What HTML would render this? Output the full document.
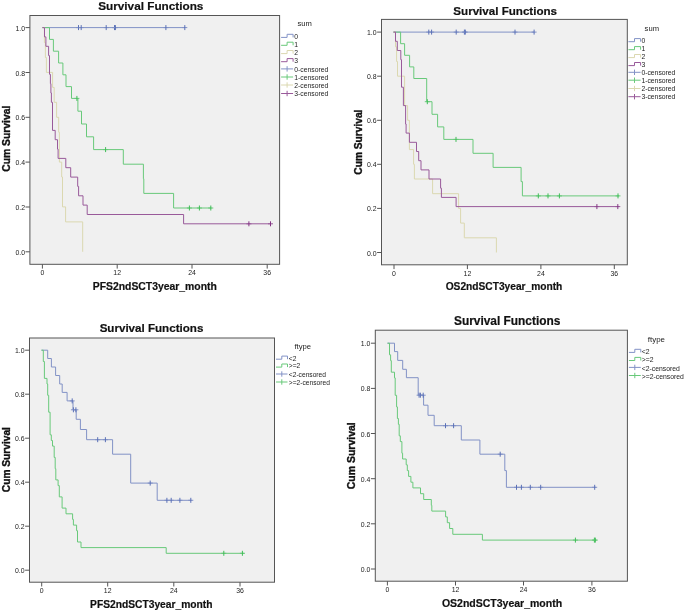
<!DOCTYPE html>
<html><head><meta charset="utf-8"><title>Survival Functions</title>
<style>
html,body{margin:0;padding:0;background:#ffffff;}
body{width:685px;height:612px;overflow:hidden;font-family:"Liberation Sans",sans-serif;}
svg{display:block;}

</style></head>
<body>
<svg width="685" height="612" viewBox="0 0 685 612">
<rect x="0" y="0" width="685" height="612" fill="#ffffff"/>
<rect x="29.9" y="15.5" width="249.7" height="248.8" fill="#f0f0f0" stroke="#555555" stroke-width="1"/>
<path d="M25.5,27.6 H29.9" stroke="#555555" stroke-width="1"/>
<path d="M25.5,72.5 H29.9" stroke="#555555" stroke-width="1"/>
<path d="M25.5,117.3 H29.9" stroke="#555555" stroke-width="1"/>
<path d="M25.5,162.1 H29.9" stroke="#555555" stroke-width="1"/>
<path d="M25.5,207.0 H29.9" stroke="#555555" stroke-width="1"/>
<path d="M25.5,251.8 H29.9" stroke="#555555" stroke-width="1"/>
<path d="M42.4,264.3 V268.6" stroke="#555555" stroke-width="1"/>
<path d="M117.2,264.3 V268.6" stroke="#555555" stroke-width="1"/>
<path d="M192.0,264.3 V268.6" stroke="#555555" stroke-width="1"/>
<path d="M267.2,264.3 V268.6" stroke="#555555" stroke-width="1"/>
<path d="M42.4,27.6 H184.8" stroke="#8292c6" stroke-width="1.0" fill="none" stroke-linejoin="miter"/>
<path d="M76.0,27.6 H81.0" stroke="#8292c6" stroke-width="1.0" fill="none"/><path d="M78.5,25.1 V30.1" stroke="#5a70b7" stroke-width="1.0" fill="none"/><path d="M78.7,27.6 H83.7" stroke="#8292c6" stroke-width="1.0" fill="none"/><path d="M81.2,25.1 V30.1" stroke="#5a70b7" stroke-width="1.0" fill="none"/><path d="M103.7,27.6 H108.7" stroke="#8292c6" stroke-width="1.0" fill="none"/><path d="M106.2,25.1 V30.1" stroke="#5a70b7" stroke-width="1.0" fill="none"/><path d="M112.0,27.6 H117.0" stroke="#8292c6" stroke-width="1.0" fill="none"/><path d="M114.5,25.1 V30.1" stroke="#5a70b7" stroke-width="1.0" fill="none"/><path d="M112.9,27.6 H117.9" stroke="#8292c6" stroke-width="1.0" fill="none"/><path d="M115.4,25.1 V30.1" stroke="#5a70b7" stroke-width="1.0" fill="none"/><path d="M163.4,27.6 H168.4" stroke="#8292c6" stroke-width="1.0" fill="none"/><path d="M165.9,25.1 V30.1" stroke="#5a70b7" stroke-width="1.0" fill="none"/><path d="M182.3,27.6 H187.3" stroke="#8292c6" stroke-width="1.0" fill="none"/><path d="M184.8,25.1 V30.1" stroke="#5a70b7" stroke-width="1.0" fill="none"/>
<path d="M42.4,27.6 H49.5 V39.4 H53.4 V51.2 H58.6 V63.0 H62.9 V74.8 H66.0 V86.6 H71.5 V98.4 H77.9 V111.2 H81.5 V124.0 H86.5 V136.8 H93.6 V149.6 H123.3 V164.2 H143.4 V178.8 H143.8 V193.4 H173.6 V208.0 H211.4" stroke="#68c97a" stroke-width="1.0" fill="none" stroke-linejoin="miter"/>
<path d="M74.4,98.4 H79.4" stroke="#68c97a" stroke-width="1.0" fill="none"/><path d="M76.9,95.9 V100.9" stroke="#3fbd57" stroke-width="1.0" fill="none"/><path d="M103.1,149.6 H108.1" stroke="#68c97a" stroke-width="1.0" fill="none"/><path d="M105.6,147.1 V152.1" stroke="#3fbd57" stroke-width="1.0" fill="none"/><path d="M186.9,208.0 H191.9" stroke="#68c97a" stroke-width="1.0" fill="none"/><path d="M189.4,205.5 V210.5" stroke="#3fbd57" stroke-width="1.0" fill="none"/><path d="M196.9,208.0 H201.9" stroke="#68c97a" stroke-width="1.0" fill="none"/><path d="M199.4,205.5 V210.5" stroke="#3fbd57" stroke-width="1.0" fill="none"/><path d="M208.3,208.0 H213.3" stroke="#68c97a" stroke-width="1.0" fill="none"/><path d="M210.8,205.5 V210.5" stroke="#3fbd57" stroke-width="1.0" fill="none"/>
<path d="M42.4,27.6 H44.4 V42.5 H45.4 V57.5 H46.4 V72.4 H52.6 V87.4 H54.2 V102.3 H56.6 V117.3 H58.7 V132.2 H59.4 V162.1 H61.7 V177.0 H62.5 V206.9 H65.6 V221.9 H82.7 V251.8" stroke="#dbd8b0" stroke-width="1.0" fill="none" stroke-linejoin="miter"/>

<path d="M42.4,27.6 H44.5 V36.9 H45.9 V46.3 H48.6 V55.6 H49.5 V74.3 H50.4 V83.7 H50.9 V93.0 H51.4 V102.3 H52.5 V130.4 H55.2 V139.7 H57.5 V149.1 H58.1 V158.4 H65.8 V167.7 H70.7 V177.1 H77.7 V186.4 H78.6 V195.8 H83.0 V205.1 H87.2 V214.5 H183.6 V223.8 H271.1" stroke="#995a9a" stroke-width="1.0" fill="none" stroke-linejoin="miter"/>
<path d="M246.4,223.8 H251.4" stroke="#995a9a" stroke-width="1.0" fill="none"/><path d="M248.9,221.3 V226.3" stroke="#843584" stroke-width="1.0" fill="none"/><path d="M268.0,223.8 H273.0" stroke="#995a9a" stroke-width="1.0" fill="none"/><path d="M270.5,221.3 V226.3" stroke="#843584" stroke-width="1.0" fill="none"/>
<path d="M281.1,37.4 H287.1 V34.3 H293.1 V37.4" stroke="#8292c6" stroke-width="1.0" fill="none"/>
<path d="M281.1,45.3 H287.1 V42.2 H293.1 V45.3" stroke="#68c97a" stroke-width="1.0" fill="none"/>
<path d="M281.1,53.6 H287.1 V50.5 H293.1 V53.6" stroke="#dbd8b0" stroke-width="1.0" fill="none"/>
<path d="M281.1,61.7 H287.1 V58.6 H293.1 V61.7" stroke="#995a9a" stroke-width="1.0" fill="none"/>
<path d="M281.1,68.9 H293.1 M287.1,66.2 V71.6" stroke="#8292c6" stroke-width="1.0" fill="none"/>
<path d="M281.1,77.0 H293.1 M287.1,74.3 V79.7" stroke="#68c97a" stroke-width="1.0" fill="none"/>
<path d="M281.1,85.0 H293.1 M287.1,82.3 V87.7" stroke="#dbd8b0" stroke-width="1.0" fill="none"/>
<path d="M281.1,93.5 H293.1 M287.1,90.8 V96.2" stroke="#995a9a" stroke-width="1.0" fill="none"/>
<rect x="381.5" y="19.4" width="245.8" height="245.4" fill="#f0f0f0" stroke="#555555" stroke-width="1"/>
<path d="M377.1,32.1 H381.5" stroke="#555555" stroke-width="1"/>
<path d="M377.1,76.2 H381.5" stroke="#555555" stroke-width="1"/>
<path d="M377.1,120.3 H381.5" stroke="#555555" stroke-width="1"/>
<path d="M377.1,164.3 H381.5" stroke="#555555" stroke-width="1"/>
<path d="M377.1,208.4 H381.5" stroke="#555555" stroke-width="1"/>
<path d="M377.1,252.5 H381.5" stroke="#555555" stroke-width="1"/>
<path d="M394.0,264.8 V269.1" stroke="#555555" stroke-width="1"/>
<path d="M467.4,264.8 V269.1" stroke="#555555" stroke-width="1"/>
<path d="M540.9,264.8 V269.1" stroke="#555555" stroke-width="1"/>
<path d="M614.3,264.8 V269.1" stroke="#555555" stroke-width="1"/>
<path d="M393.5,32.1 H534.1" stroke="#8292c6" stroke-width="1.0" fill="none" stroke-linejoin="miter"/>
<path d="M426.3,32.1 H431.3" stroke="#8292c6" stroke-width="1.0" fill="none"/><path d="M428.8,29.6 V34.6" stroke="#5a70b7" stroke-width="1.0" fill="none"/><path d="M429.1,32.1 H434.1" stroke="#8292c6" stroke-width="1.0" fill="none"/><path d="M431.6,29.6 V34.6" stroke="#5a70b7" stroke-width="1.0" fill="none"/><path d="M453.7,32.1 H458.7" stroke="#8292c6" stroke-width="1.0" fill="none"/><path d="M456.2,29.6 V34.6" stroke="#5a70b7" stroke-width="1.0" fill="none"/><path d="M461.9,32.1 H466.9" stroke="#8292c6" stroke-width="1.0" fill="none"/><path d="M464.4,29.6 V34.6" stroke="#5a70b7" stroke-width="1.0" fill="none"/><path d="M462.8,32.1 H467.8" stroke="#8292c6" stroke-width="1.0" fill="none"/><path d="M465.3,29.6 V34.6" stroke="#5a70b7" stroke-width="1.0" fill="none"/><path d="M512.5,32.1 H517.5" stroke="#8292c6" stroke-width="1.0" fill="none"/><path d="M515.0,29.6 V34.6" stroke="#5a70b7" stroke-width="1.0" fill="none"/><path d="M531.6,32.1 H536.6" stroke="#8292c6" stroke-width="1.0" fill="none"/><path d="M534.1,29.6 V34.6" stroke="#5a70b7" stroke-width="1.0" fill="none"/>
<path d="M393.5,32.1 H400.6 V43.7 H404.6 V55.3 H409.6 V66.9 H413.8 V78.5 H426.7 V101.7 H432.0 V114.3 H437.6 V126.9 H443.8 V139.4 H473.0 V153.3 H493.1 V167.4 H521.1 V181.6 H522.4 V195.9 H619.1" stroke="#68c97a" stroke-width="1.0" fill="none" stroke-linejoin="miter"/>
<path d="M424.8,101.7 H429.8" stroke="#68c97a" stroke-width="1.0" fill="none"/><path d="M427.3,99.2 V104.2" stroke="#3fbd57" stroke-width="1.0" fill="none"/><path d="M453.5,139.4 H458.5" stroke="#68c97a" stroke-width="1.0" fill="none"/><path d="M456.0,136.9 V141.9" stroke="#3fbd57" stroke-width="1.0" fill="none"/><path d="M535.8,195.9 H540.8" stroke="#68c97a" stroke-width="1.0" fill="none"/><path d="M538.3,193.4 V198.4" stroke="#3fbd57" stroke-width="1.0" fill="none"/><path d="M545.5,195.9 H550.5" stroke="#68c97a" stroke-width="1.0" fill="none"/><path d="M548.0,193.4 V198.4" stroke="#3fbd57" stroke-width="1.0" fill="none"/><path d="M556.9,195.9 H561.9" stroke="#68c97a" stroke-width="1.0" fill="none"/><path d="M559.4,193.4 V198.4" stroke="#3fbd57" stroke-width="1.0" fill="none"/><path d="M615.5,195.9 H620.5" stroke="#68c97a" stroke-width="1.0" fill="none"/><path d="M618.0,193.4 V198.4" stroke="#3fbd57" stroke-width="1.0" fill="none"/>
<path d="M393.5,32.1 H395.5 V46.8 H396.6 V61.5 H397.5 V76.2 H404.6 V105.6 H407.6 V120.3 H409.4 V149.6 H413.6 V164.3 H414.4 V179.0 H432.6 V193.7 H458.6 V208.4 H460.6 V223.1 H464.3 V237.8 H496.4 V252.5" stroke="#dbd8b0" stroke-width="1.0" fill="none" stroke-linejoin="miter"/>

<path d="M393.5,32.1 H395.5 V41.3 H397.3 V50.5 H400.8 V59.7 H401.5 V87.2 H403.4 V105.6 H405.6 V124.0 H406.1 V133.1 H409.4 V142.3 H416.5 V151.5 H418.7 V160.7 H421.0 V169.9 H429.0 V179.0 H440.6 V188.2 H441.4 V197.4 H456.1 V206.6 H619.1" stroke="#995a9a" stroke-width="1.0" fill="none" stroke-linejoin="miter"/>
<path d="M594.4,206.6 H599.4" stroke="#995a9a" stroke-width="1.0" fill="none"/><path d="M596.9,204.1 V209.1" stroke="#843584" stroke-width="1.0" fill="none"/><path d="M615.3,206.6 H620.3" stroke="#995a9a" stroke-width="1.0" fill="none"/><path d="M617.8,204.1 V209.1" stroke="#843584" stroke-width="1.0" fill="none"/>
<path d="M628.4,41.7 H634.5 V38.6 H640.6 V41.7" stroke="#8292c6" stroke-width="1.0" fill="none"/>
<path d="M628.4,49.7 H634.5 V46.6 H640.6 V49.7" stroke="#68c97a" stroke-width="1.0" fill="none"/>
<path d="M628.4,57.6 H634.5 V54.5 H640.6 V57.6" stroke="#dbd8b0" stroke-width="1.0" fill="none"/>
<path d="M628.4,65.6 H634.5 V62.5 H640.6 V65.6" stroke="#995a9a" stroke-width="1.0" fill="none"/>
<path d="M628.4,72.3 H640.6 M634.5,69.6 V75.0" stroke="#8292c6" stroke-width="1.0" fill="none"/>
<path d="M628.4,80.2 H640.6 M634.5,77.5 V82.9" stroke="#68c97a" stroke-width="1.0" fill="none"/>
<path d="M628.4,88.5 H640.6 M634.5,85.8 V91.2" stroke="#dbd8b0" stroke-width="1.0" fill="none"/>
<path d="M628.4,96.7 H640.6 M634.5,94.0 V99.4" stroke="#995a9a" stroke-width="1.0" fill="none"/>
<rect x="29.5" y="338.0" width="245.0" height="244.2" fill="#f0f0f0" stroke="#555555" stroke-width="1"/>
<path d="M25.1,350.2 H29.5" stroke="#555555" stroke-width="1"/>
<path d="M25.1,394.2 H29.5" stroke="#555555" stroke-width="1"/>
<path d="M25.1,438.2 H29.5" stroke="#555555" stroke-width="1"/>
<path d="M25.1,482.2 H29.5" stroke="#555555" stroke-width="1"/>
<path d="M25.1,526.2 H29.5" stroke="#555555" stroke-width="1"/>
<path d="M25.1,570.2 H29.5" stroke="#555555" stroke-width="1"/>
<path d="M41.7,582.2 V586.5" stroke="#555555" stroke-width="1"/>
<path d="M107.7,582.2 V586.5" stroke="#555555" stroke-width="1"/>
<path d="M173.8,582.2 V586.5" stroke="#555555" stroke-width="1"/>
<path d="M240.0,582.2 V586.5" stroke="#555555" stroke-width="1"/>
<path d="M41.5,350.2 H47.7 V358.5 H51.4 V367.0 H55.6 V375.5 H59.7 V384.0 H62.2 V392.4 H67.1 V400.9 H73.0 V409.8 H76.2 V419.3 H80.4 V429.5 H86.6 V439.7 H112.6 V454.2 H130.7 V483.1 H157.2 V500.3 H191.6" stroke="#8292c6" stroke-width="1.0" fill="none" stroke-linejoin="miter"/>
<path d="M69.7,400.9 H74.7" stroke="#8292c6" stroke-width="1.0" fill="none"/><path d="M72.2,398.4 V403.4" stroke="#5a70b7" stroke-width="1.0" fill="none"/><path d="M70.9,409.8 H75.9" stroke="#8292c6" stroke-width="1.0" fill="none"/><path d="M73.4,407.3 V412.3" stroke="#5a70b7" stroke-width="1.0" fill="none"/><path d="M73.4,409.8 H78.4" stroke="#8292c6" stroke-width="1.0" fill="none"/><path d="M75.9,407.3 V412.3" stroke="#5a70b7" stroke-width="1.0" fill="none"/><path d="M95.2,439.7 H100.2" stroke="#8292c6" stroke-width="1.0" fill="none"/><path d="M97.7,437.2 V442.2" stroke="#5a70b7" stroke-width="1.0" fill="none"/><path d="M102.9,439.7 H107.9" stroke="#8292c6" stroke-width="1.0" fill="none"/><path d="M105.4,437.2 V442.2" stroke="#5a70b7" stroke-width="1.0" fill="none"/><path d="M147.7,483.1 H152.7" stroke="#8292c6" stroke-width="1.0" fill="none"/><path d="M150.2,480.6 V485.6" stroke="#5a70b7" stroke-width="1.0" fill="none"/><path d="M164.4,500.3 H169.4" stroke="#8292c6" stroke-width="1.0" fill="none"/><path d="M166.9,497.8 V502.8" stroke="#5a70b7" stroke-width="1.0" fill="none"/><path d="M168.7,500.3 H173.7" stroke="#8292c6" stroke-width="1.0" fill="none"/><path d="M171.2,497.8 V502.8" stroke="#5a70b7" stroke-width="1.0" fill="none"/><path d="M177.4,500.3 H182.4" stroke="#8292c6" stroke-width="1.0" fill="none"/><path d="M179.9,497.8 V502.8" stroke="#5a70b7" stroke-width="1.0" fill="none"/><path d="M188.3,500.3 H193.3" stroke="#8292c6" stroke-width="1.0" fill="none"/><path d="M190.8,497.8 V502.8" stroke="#5a70b7" stroke-width="1.0" fill="none"/>
<path d="M41.5,350.2 H43.3 V361.5 H44.4 V378.4 H47.0 V384.0 H47.7 V395.3 H48.7 V412.2 H50.1 V434.8 H51.3 V440.5 H52.5 V446.1 H54.2 V457.4 H55.2 V468.7 H55.8 V479.9 H58.1 V485.6 H59.3 V496.9 H62.1 V508.1 H66.0 V513.8 H72.6 V519.4 H73.4 V525.1 H76.6 V530.7 H77.5 V542.0 H81.0 V547.6 H166.2 V553.3 H244.3" stroke="#68c97a" stroke-width="1.0" fill="none" stroke-linejoin="miter"/>
<path d="M221.3,553.3 H226.3" stroke="#68c97a" stroke-width="1.0" fill="none"/><path d="M223.8,550.8 V555.8" stroke="#3fbd57" stroke-width="1.0" fill="none"/><path d="M239.9,553.3 H244.9" stroke="#68c97a" stroke-width="1.0" fill="none"/><path d="M242.4,550.8 V555.8" stroke="#3fbd57" stroke-width="1.0" fill="none"/>
<path d="M276.0,359.2 H281.8 V356.1 H287.5 V359.2" stroke="#8292c6" stroke-width="1.0" fill="none"/>
<path d="M276.0,367.1 H281.8 V364.0 H287.5 V367.1" stroke="#68c97a" stroke-width="1.0" fill="none"/>
<path d="M276.0,374.0 H287.5 M281.8,371.3 V376.7" stroke="#8292c6" stroke-width="1.0" fill="none"/>
<path d="M276.0,382.0 H287.5 M281.8,379.3 V384.7" stroke="#68c97a" stroke-width="1.0" fill="none"/>
<rect x="375.3" y="330.2" width="252.1" height="251.0" fill="#f0f0f0" stroke="#555555" stroke-width="1"/>
<path d="M370.9,343.2 H375.3" stroke="#555555" stroke-width="1"/>
<path d="M370.9,388.4 H375.3" stroke="#555555" stroke-width="1"/>
<path d="M370.9,433.5 H375.3" stroke="#555555" stroke-width="1"/>
<path d="M370.9,478.7 H375.3" stroke="#555555" stroke-width="1"/>
<path d="M370.9,523.8 H375.3" stroke="#555555" stroke-width="1"/>
<path d="M370.9,569.0 H375.3" stroke="#555555" stroke-width="1"/>
<path d="M387.4,581.2 V585.5" stroke="#555555" stroke-width="1"/>
<path d="M455.5,581.2 V585.5" stroke="#555555" stroke-width="1"/>
<path d="M523.5,581.2 V585.5" stroke="#555555" stroke-width="1"/>
<path d="M591.9,581.2 V585.5" stroke="#555555" stroke-width="1"/>
<path d="M387.5,343.2 H394.5 V351.6 H397.7 V360.4 H402.7 V369.3 H406.4 V377.7 H418.2 V395.2 H423.6 V405.2 H428.0 V415.3 H434.2 V425.7 H461.3 V440.0 H479.9 V454.2 H504.8 V470.6 H506.4 V487.3 H595.9" stroke="#8292c6" stroke-width="1.0" fill="none" stroke-linejoin="miter"/>
<path d="M416.6,395.2 H421.6" stroke="#8292c6" stroke-width="1.0" fill="none"/><path d="M419.1,392.7 V397.7" stroke="#5a70b7" stroke-width="1.0" fill="none"/><path d="M417.9,395.2 H422.9" stroke="#8292c6" stroke-width="1.0" fill="none"/><path d="M420.4,392.7 V397.7" stroke="#5a70b7" stroke-width="1.0" fill="none"/><path d="M420.7,395.2 H425.7" stroke="#8292c6" stroke-width="1.0" fill="none"/><path d="M423.2,392.7 V397.7" stroke="#5a70b7" stroke-width="1.0" fill="none"/><path d="M443.0,425.7 H448.0" stroke="#8292c6" stroke-width="1.0" fill="none"/><path d="M445.5,423.2 V428.2" stroke="#5a70b7" stroke-width="1.0" fill="none"/><path d="M451.1,425.7 H456.1" stroke="#8292c6" stroke-width="1.0" fill="none"/><path d="M453.6,423.2 V428.2" stroke="#5a70b7" stroke-width="1.0" fill="none"/><path d="M497.7,454.2 H502.7" stroke="#8292c6" stroke-width="1.0" fill="none"/><path d="M500.2,451.7 V456.7" stroke="#5a70b7" stroke-width="1.0" fill="none"/><path d="M514.0,487.3 H519.0" stroke="#8292c6" stroke-width="1.0" fill="none"/><path d="M516.5,484.8 V489.8" stroke="#5a70b7" stroke-width="1.0" fill="none"/><path d="M518.9,487.3 H523.9" stroke="#8292c6" stroke-width="1.0" fill="none"/><path d="M521.4,484.8 V489.8" stroke="#5a70b7" stroke-width="1.0" fill="none"/><path d="M527.8,487.3 H532.8" stroke="#8292c6" stroke-width="1.0" fill="none"/><path d="M530.3,484.8 V489.8" stroke="#5a70b7" stroke-width="1.0" fill="none"/><path d="M538.2,487.3 H543.2" stroke="#8292c6" stroke-width="1.0" fill="none"/><path d="M540.7,484.8 V489.8" stroke="#5a70b7" stroke-width="1.0" fill="none"/><path d="M592.2,487.3 H597.2" stroke="#8292c6" stroke-width="1.0" fill="none"/><path d="M594.7,484.8 V489.8" stroke="#5a70b7" stroke-width="1.0" fill="none"/>
<path d="M387.5,343.2 H389.5 V354.8 H390.6 V360.6 H391.3 V372.2 H394.5 V377.9 H395.2 V395.3 H396.6 V406.9 H397.4 V418.5 H398.4 V424.3 H399.2 V435.8 H400.3 V441.6 H401.9 V453.2 H402.6 V459.0 H406.2 V464.8 H407.3 V470.6 H408.6 V476.4 H410.9 V482.2 H412.9 V487.9 H420.5 V493.7 H423.7 V499.5 H431.3 V505.3 H431.8 V511.1 H445.6 V516.9 H447.3 V522.7 H449.6 V528.5 H452.8 V534.3 H482.4 V540.1 H596.0" stroke="#68c97a" stroke-width="1.0" fill="none" stroke-linejoin="miter"/>
<path d="M572.9,540.1 H577.9" stroke="#68c97a" stroke-width="1.0" fill="none"/><path d="M575.4,537.6 V542.6" stroke="#3fbd57" stroke-width="1.0" fill="none"/><path d="M591.9,540.1 H596.9" stroke="#68c97a" stroke-width="1.0" fill="none"/><path d="M594.4,537.6 V542.6" stroke="#3fbd57" stroke-width="1.0" fill="none"/><path d="M592.8,540.1 H597.8" stroke="#68c97a" stroke-width="1.0" fill="none"/><path d="M595.3,537.6 V542.6" stroke="#3fbd57" stroke-width="1.0" fill="none"/>
<path d="M628.9,352.4 H634.8 V349.3 H640.8 V352.4" stroke="#8292c6" stroke-width="1.0" fill="none"/>
<path d="M628.9,360.5 H634.8 V357.4 H640.8 V360.5" stroke="#68c97a" stroke-width="1.0" fill="none"/>
<path d="M628.9,367.4 H640.8 M634.8,364.7 V370.1" stroke="#8292c6" stroke-width="1.0" fill="none"/>
<path d="M628.9,375.5 H640.8 M634.8,372.8 V378.2" stroke="#68c97a" stroke-width="1.0" fill="none"/>
<g style="filter:grayscale(1)">
<text x="25.0" y="30.6" font-family="Liberation Sans, sans-serif" font-size="6.9" fill="#222222" text-anchor="end">1.0</text>
<text x="25.0" y="75.5" font-family="Liberation Sans, sans-serif" font-size="6.9" fill="#222222" text-anchor="end">0.8</text>
<text x="25.0" y="120.3" font-family="Liberation Sans, sans-serif" font-size="6.9" fill="#222222" text-anchor="end">0.6</text>
<text x="25.0" y="165.1" font-family="Liberation Sans, sans-serif" font-size="6.9" fill="#222222" text-anchor="end">0.4</text>
<text x="25.0" y="210.0" font-family="Liberation Sans, sans-serif" font-size="6.9" fill="#222222" text-anchor="end">0.2</text>
<text x="25.0" y="254.8" font-family="Liberation Sans, sans-serif" font-size="6.9" fill="#222222" text-anchor="end">0.0</text>
<text x="42.4" y="275.3" font-family="Liberation Sans, sans-serif" font-size="6.9" fill="#222222" text-anchor="middle">0</text>
<text x="117.2" y="275.3" font-family="Liberation Sans, sans-serif" font-size="6.9" fill="#222222" text-anchor="middle">12</text>
<text x="192.0" y="275.3" font-family="Liberation Sans, sans-serif" font-size="6.9" fill="#222222" text-anchor="middle">24</text>
<text x="267.2" y="275.3" font-family="Liberation Sans, sans-serif" font-size="6.9" fill="#222222" text-anchor="middle">36</text>
<text x="150.8" y="9.9" font-family="Liberation Sans, sans-serif" font-size="11.75" font-weight="bold" fill="#111" stroke="#111" stroke-width="0.2" text-anchor="middle">Survival Functions</text>
<text x="154.8" y="289.7" font-family="Liberation Sans, sans-serif" font-size="10.4" font-weight="bold" fill="#111" stroke="#111" stroke-width="0.2" text-anchor="middle">PFS2ndSCT3year_month</text>
<text transform="translate(9.5,138.7) rotate(-90)" font-family="Liberation Sans, sans-serif" font-size="10.35" font-weight="bold" fill="#111" stroke="#111" stroke-width="0.35" text-anchor="middle">Cum Survival</text>
<text x="304.6" y="26.1" font-family="Liberation Sans, sans-serif" font-size="7.6" fill="#222222" text-anchor="middle">sum</text>
<text x="294.3" y="38.7" font-family="Liberation Sans, sans-serif" font-size="6.8" fill="#222222">0</text>
<text x="294.3" y="46.6" font-family="Liberation Sans, sans-serif" font-size="6.8" fill="#222222">1</text>
<text x="294.3" y="54.9" font-family="Liberation Sans, sans-serif" font-size="6.8" fill="#222222">2</text>
<text x="294.3" y="63.0" font-family="Liberation Sans, sans-serif" font-size="6.8" fill="#222222">3</text>
<text x="294.3" y="71.5" font-family="Liberation Sans, sans-serif" font-size="6.8" fill="#222222">0-censored</text>
<text x="294.3" y="79.6" font-family="Liberation Sans, sans-serif" font-size="6.8" fill="#222222">1-censored</text>
<text x="294.3" y="87.6" font-family="Liberation Sans, sans-serif" font-size="6.8" fill="#222222">2-censored</text>
<text x="294.3" y="96.1" font-family="Liberation Sans, sans-serif" font-size="6.8" fill="#222222">3-censored</text>
<text x="376.6" y="35.1" font-family="Liberation Sans, sans-serif" font-size="6.9" fill="#222222" text-anchor="end">1.0</text>
<text x="376.6" y="79.2" font-family="Liberation Sans, sans-serif" font-size="6.9" fill="#222222" text-anchor="end">0.8</text>
<text x="376.6" y="123.3" font-family="Liberation Sans, sans-serif" font-size="6.9" fill="#222222" text-anchor="end">0.6</text>
<text x="376.6" y="167.3" font-family="Liberation Sans, sans-serif" font-size="6.9" fill="#222222" text-anchor="end">0.4</text>
<text x="376.6" y="211.4" font-family="Liberation Sans, sans-serif" font-size="6.9" fill="#222222" text-anchor="end">0.2</text>
<text x="376.6" y="255.5" font-family="Liberation Sans, sans-serif" font-size="6.9" fill="#222222" text-anchor="end">0.0</text>
<text x="394.0" y="275.8" font-family="Liberation Sans, sans-serif" font-size="6.9" fill="#222222" text-anchor="middle">0</text>
<text x="467.4" y="275.8" font-family="Liberation Sans, sans-serif" font-size="6.9" fill="#222222" text-anchor="middle">12</text>
<text x="540.9" y="275.8" font-family="Liberation Sans, sans-serif" font-size="6.9" fill="#222222" text-anchor="middle">24</text>
<text x="614.3" y="275.8" font-family="Liberation Sans, sans-serif" font-size="6.9" fill="#222222" text-anchor="middle">36</text>
<text x="505.2" y="14.9" font-family="Liberation Sans, sans-serif" font-size="11.6" font-weight="bold" fill="#111" stroke="#111" stroke-width="0.2" text-anchor="middle">Survival Functions</text>
<text x="504.0" y="290.3" font-family="Liberation Sans, sans-serif" font-size="10.2" font-weight="bold" fill="#111" stroke="#111" stroke-width="0.2" text-anchor="middle">OS2ndSCT3year_month</text>
<text transform="translate(361.8,142.1) rotate(-90)" font-family="Liberation Sans, sans-serif" font-size="10.2" font-weight="bold" fill="#111" stroke="#111" stroke-width="0.35" text-anchor="middle">Cum Survival</text>
<text x="651.8" y="30.8" font-family="Liberation Sans, sans-serif" font-size="7.6" fill="#222222" text-anchor="middle">sum</text>
<text x="641.4" y="43.0" font-family="Liberation Sans, sans-serif" font-size="6.8" fill="#222222">0</text>
<text x="641.4" y="51.0" font-family="Liberation Sans, sans-serif" font-size="6.8" fill="#222222">1</text>
<text x="641.4" y="58.9" font-family="Liberation Sans, sans-serif" font-size="6.8" fill="#222222">2</text>
<text x="641.4" y="66.9" font-family="Liberation Sans, sans-serif" font-size="6.8" fill="#222222">3</text>
<text x="641.4" y="74.9" font-family="Liberation Sans, sans-serif" font-size="6.8" fill="#222222">0-censored</text>
<text x="641.4" y="82.8" font-family="Liberation Sans, sans-serif" font-size="6.8" fill="#222222">1-censored</text>
<text x="641.4" y="91.1" font-family="Liberation Sans, sans-serif" font-size="6.8" fill="#222222">2-censored</text>
<text x="641.4" y="99.3" font-family="Liberation Sans, sans-serif" font-size="6.8" fill="#222222">3-censored</text>
<text x="24.6" y="353.2" font-family="Liberation Sans, sans-serif" font-size="6.9" fill="#222222" text-anchor="end">1.0</text>
<text x="24.6" y="397.2" font-family="Liberation Sans, sans-serif" font-size="6.9" fill="#222222" text-anchor="end">0.8</text>
<text x="24.6" y="441.2" font-family="Liberation Sans, sans-serif" font-size="6.9" fill="#222222" text-anchor="end">0.6</text>
<text x="24.6" y="485.2" font-family="Liberation Sans, sans-serif" font-size="6.9" fill="#222222" text-anchor="end">0.4</text>
<text x="24.6" y="529.2" font-family="Liberation Sans, sans-serif" font-size="6.9" fill="#222222" text-anchor="end">0.2</text>
<text x="24.6" y="573.2" font-family="Liberation Sans, sans-serif" font-size="6.9" fill="#222222" text-anchor="end">0.0</text>
<text x="41.7" y="593.2" font-family="Liberation Sans, sans-serif" font-size="6.9" fill="#222222" text-anchor="middle">0</text>
<text x="107.7" y="593.2" font-family="Liberation Sans, sans-serif" font-size="6.9" fill="#222222" text-anchor="middle">12</text>
<text x="173.8" y="593.2" font-family="Liberation Sans, sans-serif" font-size="6.9" fill="#222222" text-anchor="middle">24</text>
<text x="240.0" y="593.2" font-family="Liberation Sans, sans-serif" font-size="6.9" fill="#222222" text-anchor="middle">36</text>
<text x="151.5" y="331.7" font-family="Liberation Sans, sans-serif" font-size="11.6" font-weight="bold" fill="#111" stroke="#111" stroke-width="0.2" text-anchor="middle">Survival Functions</text>
<text x="151.3" y="607.6" font-family="Liberation Sans, sans-serif" font-size="10.25" font-weight="bold" fill="#111" stroke="#111" stroke-width="0.2" text-anchor="middle">PFS2ndSCT3year_month</text>
<text transform="translate(9.5,459.6) rotate(-90)" font-family="Liberation Sans, sans-serif" font-size="10.2" font-weight="bold" fill="#111" stroke="#111" stroke-width="0.35" text-anchor="middle">Cum Survival</text>
<text x="302.7" y="349.3" font-family="Liberation Sans, sans-serif" font-size="7.67" fill="#222222" text-anchor="middle">ftype</text>
<text x="288.8" y="360.5" font-family="Liberation Sans, sans-serif" font-size="6.67" fill="#222222">&lt;2</text>
<text x="288.8" y="368.4" font-family="Liberation Sans, sans-serif" font-size="6.67" fill="#222222">&gt;=2</text>
<text x="288.8" y="376.6" font-family="Liberation Sans, sans-serif" font-size="6.67" fill="#222222">&lt;2-censored</text>
<text x="288.8" y="384.6" font-family="Liberation Sans, sans-serif" font-size="6.67" fill="#222222">&gt;=2-censored</text>
<text x="370.4" y="346.2" font-family="Liberation Sans, sans-serif" font-size="6.9" fill="#222222" text-anchor="end">1.0</text>
<text x="370.4" y="391.4" font-family="Liberation Sans, sans-serif" font-size="6.9" fill="#222222" text-anchor="end">0.8</text>
<text x="370.4" y="436.5" font-family="Liberation Sans, sans-serif" font-size="6.9" fill="#222222" text-anchor="end">0.6</text>
<text x="370.4" y="481.7" font-family="Liberation Sans, sans-serif" font-size="6.9" fill="#222222" text-anchor="end">0.4</text>
<text x="370.4" y="526.8" font-family="Liberation Sans, sans-serif" font-size="6.9" fill="#222222" text-anchor="end">0.2</text>
<text x="370.4" y="572.0" font-family="Liberation Sans, sans-serif" font-size="6.9" fill="#222222" text-anchor="end">0.0</text>
<text x="387.4" y="592.2" font-family="Liberation Sans, sans-serif" font-size="6.9" fill="#222222" text-anchor="middle">0</text>
<text x="455.5" y="592.2" font-family="Liberation Sans, sans-serif" font-size="6.9" fill="#222222" text-anchor="middle">12</text>
<text x="523.5" y="592.2" font-family="Liberation Sans, sans-serif" font-size="6.9" fill="#222222" text-anchor="middle">24</text>
<text x="591.9" y="592.2" font-family="Liberation Sans, sans-serif" font-size="6.9" fill="#222222" text-anchor="middle">36</text>
<text x="507.2" y="324.8" font-family="Liberation Sans, sans-serif" font-size="11.9" font-weight="bold" fill="#111" stroke="#111" stroke-width="0.2" text-anchor="middle">Survival Functions</text>
<text x="502.0" y="607.0" font-family="Liberation Sans, sans-serif" font-size="10.5" font-weight="bold" fill="#111" stroke="#111" stroke-width="0.2" text-anchor="middle">OS2ndSCT3year_month</text>
<text transform="translate(355.3,455.8) rotate(-90)" font-family="Liberation Sans, sans-serif" font-size="10.5" font-weight="bold" fill="#111" stroke="#111" stroke-width="0.35" text-anchor="middle">Cum Survival</text>
<text x="656.4" y="341.9" font-family="Liberation Sans, sans-serif" font-size="7.9" fill="#222222" text-anchor="middle">ftype</text>
<text x="641.8" y="353.7" font-family="Liberation Sans, sans-serif" font-size="6.82" fill="#222222">&lt;2</text>
<text x="641.8" y="361.8" font-family="Liberation Sans, sans-serif" font-size="6.82" fill="#222222">&gt;=2</text>
<text x="641.8" y="370.9" font-family="Liberation Sans, sans-serif" font-size="6.82" fill="#222222">&lt;2-censored</text>
<text x="641.8" y="379.0" font-family="Liberation Sans, sans-serif" font-size="6.82" fill="#222222">&gt;=2-censored</text>
</g>
</svg>
</body></html>
